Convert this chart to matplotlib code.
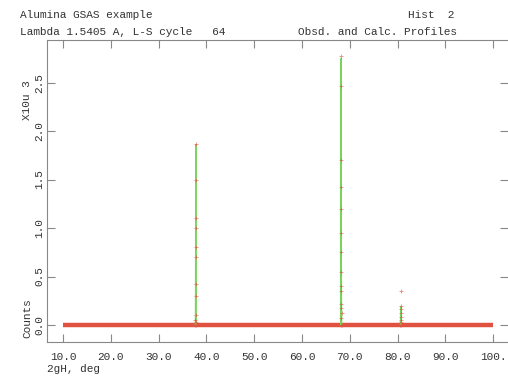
import matplotlib
matplotlib.use("Agg")
import matplotlib.pyplot as plt

# background: observed counts ~0 across the full scan (x1000 counts)
bg_two_theta = [10.0, 100.0]
bg_counts = [0.0, 0.0]

# Bragg peaks: observed (red +) and calculated (green line), in 10^3 counts
peak1_tt = [37.70, 37.72, 37.74, 37.75, 37.76, 37.77, 37.78, 37.79, 37.80, 37.81, 37.82, 37.84, 37.86]
peak1_obs = [0.00, 0.05, 0.30, 0.70, 1.00, 1.50, 1.87, 1.10, 0.80, 0.42, 0.10, 0.03, 0.00]
peak1_calc = [0.00, 0.05, 0.32, 0.75, 1.05, 1.50, 1.86, 1.10, 0.78, 0.45, 0.12, 0.03, 0.00]

peak2_tt = [68.10, 68.12, 68.14, 68.15, 68.16, 68.17, 68.18, 68.19, 68.20, 68.21, 68.22, 68.23, 68.24, 68.26, 68.28, 68.30]
peak2_obs = [0.00, 0.07, 0.18, 0.40, 0.75, 1.20, 1.70, 2.47, 2.77, 1.42, 0.95, 0.55, 0.35, 0.22, 0.12, 0.00]
peak2_calc = [0.00, 0.05, 0.16, 0.38, 0.72, 1.22, 1.72, 2.45, 2.75, 1.40, 0.92, 0.52, 0.33, 0.20, 0.10, 0.00]

peak3_tt = [80.60, 80.63, 80.65, 80.67, 80.69, 80.71, 80.73, 80.75, 80.78]
peak3_obs = [0.00, 0.05, 0.12, 0.20, 0.35, 0.16, 0.08, 0.03, 0.00]
peak3_calc = [0.00, 0.04, 0.10, 0.17, 0.19, 0.14, 0.07, 0.02, 0.00]

x_ticks = [10, 20, 30, 40, 50, 60, 70, 80, 90, 100]
x_tick_labels = ["10.0", "20.0", "30.0", "40.0", "50.0", "60.0", "70.0", "80.0", "90.0", "100."]
y_ticks = [0.0, 0.5, 1.0, 1.5, 2.0, 2.5]
y_tick_labels = ["0.0", "0.5", "1.0", "1.5", "2.0", "2.5"]

MONO = "Liberation Mono"
TXT = "#333333"
RED = "#e0523f"
GREEN = "#78d45a"
AXC = "#888888"

fig = plt.figure(figsize=(5.08, 3.77), dpi=100)
ax = fig.add_axes([0.0925, 0.093, 0.9075, 0.801])

ax.plot(bg_two_theta, bg_counts, color=RED, linewidth=3.2, solid_capstyle="butt", zorder=2)
for tt, obs, calc in [(peak1_tt, peak1_obs, peak1_calc),
                      (peak2_tt, peak2_obs, peak2_calc),
                      (peak3_tt, peak3_obs, peak3_calc)]:
    ax.plot(tt, calc, color=GREEN, linewidth=1.0, zorder=3)
    ax.plot(tt, obs, "+", color=RED, markersize=3, markeredgewidth=0.6, alpha=0.7, zorder=4)

ax.set_xlim(6.65, 103.1)
ax.set_ylim(-0.175, 2.94)

ax.set_xticks(x_ticks)
ax.set_xticklabels(x_tick_labels, fontfamily=MONO, fontsize=8, color=TXT)
ax.set_yticks(y_ticks)
ax.set_yticklabels(y_tick_labels, fontfamily=MONO, fontsize=8, color=TXT,
                   rotation=90, va="center")

ax.tick_params(axis="x", direction="in", top=True, bottom=True, length=6,
               color=AXC, pad=7)
ax.tick_params(axis="y", direction="in", left=True, right=True, length=6,
               color=AXC, pad=2)

for side in ["left", "bottom", "top"]:
    ax.spines[side].set_color(AXC)
    ax.spines[side].set_linewidth(0.8)
ax.spines["right"].set_visible(False)

fig.text(20 / 508, 1 - 15 / 377, "Alumina GSAS example", fontfamily=MONO,
         fontsize=8, color=TXT, va="center")
fig.text(408 / 508, 1 - 15 / 377, "Hist  2", fontfamily=MONO,
         fontsize=8, color=TXT, va="center")
fig.text(20 / 508, 1 - 32 / 377, "Lambda 1.5405 A, L-S cycle   64", fontfamily=MONO,
         fontsize=8, color=TXT, va="center")
fig.text(457 / 508, 1 - 32 / 377, "Obsd. and Calc. Profiles", fontfamily=MONO,
         fontsize=8, color=TXT, va="center", ha="right")

fig.text(47 / 508, 1 - 369 / 377, "2gH, deg", fontfamily=MONO,
         fontsize=8, color=TXT, va="center")
fig.text(27 / 508, 1 - 100 / 377, "X10u 3", fontfamily=MONO, fontsize=8,
         color=TXT, rotation=90, ha="center", va="center")
fig.text(27 / 508, 1 - 318 / 377, "Counts", fontfamily=MONO, fontsize=8,
         color=TXT, rotation=90, ha="center", va="center")

fig.savefig("out.png", dpi=100)
